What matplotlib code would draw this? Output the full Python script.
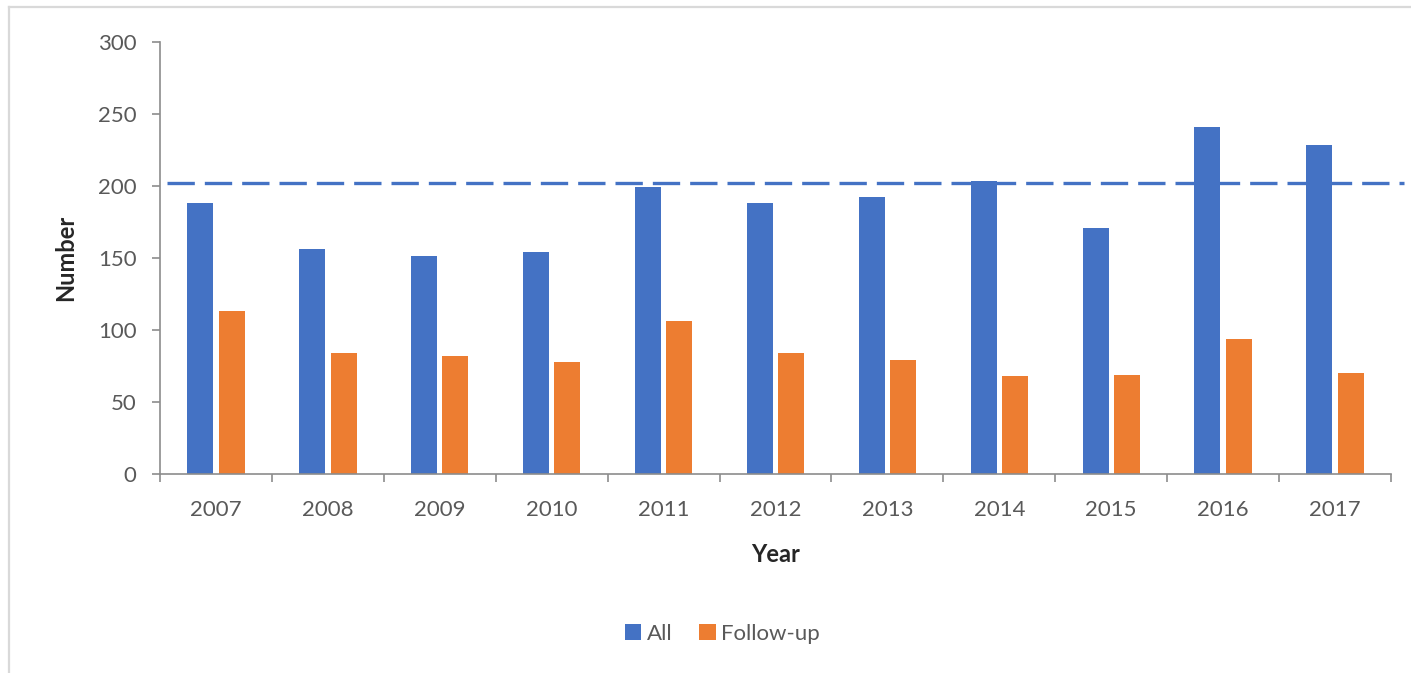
import matplotlib.pyplot as plt
from matplotlib.lines import Line2D
import numpy as np

years = ["2007", "2008", "2009", "2010", "2011", "2012",
         "2013", "2014", "2015", "2016", "2017"]
all_cases = [188, 156, 151, 154, 199, 188, 192, 203, 171, 241, 228]
follow_up = [113, 84, 82, 78, 106, 84, 79, 68, 69, 94, 70]
reference_level = 202

BLUE = "#4472C4"
ORANGE = "#ED7D31"
TEXT = "#595959"
AXIS = "#8c8c8c"

plt.rcParams["font.family"] = ["Lato", "DejaVu Sans"]

fig = plt.figure(figsize=(14.11, 6.73), dpi=100)
ax = fig.add_axes([0.1134, 0.2957, 0.8724, 0.6423])

x = np.arange(len(years))
w = 0.232
ax.bar(x - 0.14, all_cases, w, color=BLUE, label="All", zorder=2)
ax.bar(x + 0.14, follow_up, w, color=ORANGE, label="Follow-up", zorder=2)

# dashed reference level, running a little past the plot edge
ref = ax.axhline(reference_level, xmin=0.006, xmax=1.0105, color=BLUE,
                 linewidth=2.4, clip_on=False, zorder=3)
ref.set_dashes((8.2, 3.0))

ax.set_xlim(-0.5, len(years) - 0.5)
ax.set_ylim(0, 300)
ax.set_yticks(range(0, 301, 50))
ax.set_xticks(x)
ax.set_xticklabels(years)
ax.set_xticks(np.arange(-0.5, len(years), 1.0), minor=True)

for side in ("top", "right"):
    ax.spines[side].set_visible(False)
for side in ("left", "bottom"):
    ax.spines[side].set_color(AXIS)
    ax.spines[side].set_linewidth(1.2)

ax.tick_params(axis="y", length=6, width=1.2, color=AXIS, labelcolor=TEXT,
               labelsize=16, pad=11)
ax.tick_params(axis="x", which="major", length=0, labelcolor=TEXT,
               labelsize=16, pad=19)
ax.tick_params(axis="x", which="minor", length=6, width=1.2, color=AXIS)

ax.set_xlabel("Year", fontsize=17, fontweight="bold", color="#262626", labelpad=16)
ax.set_ylabel("Number", fontsize=17, fontweight="bold", color="#262626", labelpad=15)

leg = fig.legend(loc="center", bbox_to_anchor=(0.512, 0.058), ncol=2,
                 frameon=False, fontsize=16, handlelength=0.75,
                 handleheight=0.75, handletextpad=0.25, columnspacing=1.2)
for t in leg.get_texts():
    t.set_color(TEXT)

# light frame along the left and top edges
fig.add_artist(Line2D([9 / 1411, 9 / 1411], [0, 1 - 7 / 673],
                      transform=fig.transFigure, color="#d9d9d9", linewidth=1.6))
fig.add_artist(Line2D([9 / 1411, 1], [1 - 7 / 673, 1 - 7 / 673],
                      transform=fig.transFigure, color="#d9d9d9", linewidth=1.6))

fig.savefig("out.png", dpi=100)
